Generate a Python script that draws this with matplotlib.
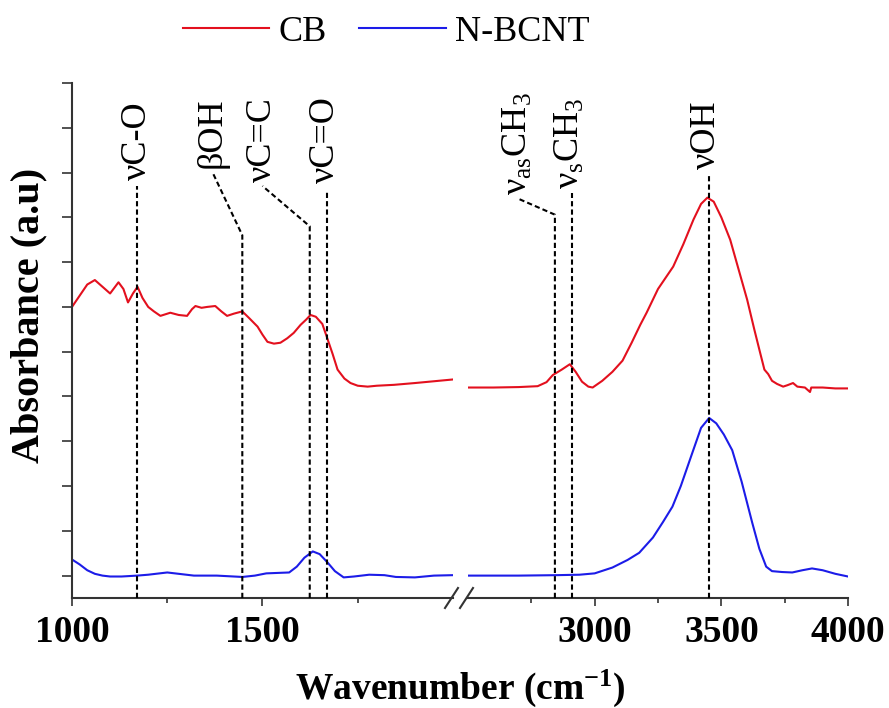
import matplotlib

matplotlib.use("Agg")
import matplotlib.pyplot as plt
from matplotlib.lines import Line2D

plt.rcParams["font.family"] = ["Liberation Serif", "DejaVu Serif"]
plt.rcParams["mathtext.fontset"] = "custom"
plt.rcParams["mathtext.rm"] = "Liberation Serif"
plt.rcParams["mathtext.it"] = "Liberation Serif:italic"
plt.rcParams["mathtext.bf"] = "Liberation Serif:bold"

# CB spectrum, low and high wavenumber parts
cb_low_x = [1000, 1020, 1040, 1060, 1080, 1100, 1122, 1135, 1147, 1160, 1172, 1185, 1200, 1215,
            1232, 1258, 1280, 1302, 1315, 1324, 1340, 1355, 1376, 1392, 1407, 1425, 1447, 1465,
            1487, 1500, 1513, 1530, 1547, 1565, 1582, 1600, 1615, 1626, 1640, 1657, 1670, 1684,
            1697, 1715, 1731, 1750, 1776, 1800, 1845, 1900, 1950, 2000]
cb_low_y = [6.0, 6.25, 6.5, 6.6, 6.45, 6.3, 6.55, 6.4, 6.1, 6.3, 6.45, 6.2, 6.0, 5.9,
            5.8, 5.87, 5.82, 5.8, 5.95, 6.02, 5.98, 6.0, 6.02, 5.9, 5.8, 5.85, 5.9, 5.75,
            5.56, 5.38, 5.22, 5.18, 5.2, 5.3, 5.42, 5.6, 5.72, 5.82, 5.78, 5.62, 5.3, 4.95,
            4.6, 4.4, 4.3, 4.24, 4.22, 4.24, 4.26, 4.3, 4.34, 4.38]
cb_high_x = [2500, 2600, 2700, 2775, 2810, 2835, 2870, 2902, 2925, 2950, 2975, 2992, 3030, 3070,
             3110, 3146, 3180, 3205, 3250, 3310, 3350, 3390, 3420, 3445, 3470, 3500, 3535, 3570,
             3602, 3630, 3653, 3670, 3685, 3700, 3720, 3744, 3760, 3783, 3800, 3830, 3850, 3855,
             3900, 3950, 4000]
cb_high_y = [4.2, 4.2, 4.21, 4.23, 4.32, 4.48, 4.6, 4.72, 4.55, 4.33, 4.22, 4.2, 4.35, 4.55,
             4.8, 5.2, 5.6, 5.87, 6.4, 6.9, 7.4, 7.95, 8.3, 8.44, 8.35, 8.0, 7.5, 6.8,
             6.16, 5.5, 4.98, 4.6, 4.5, 4.35, 4.28, 4.22, 4.25, 4.3, 4.22, 4.2, 4.1, 4.2,
             4.2, 4.18, 4.18]

# N-BCNT spectrum
nb_low_x = [1000, 1020, 1040, 1060, 1080, 1100, 1130, 1171, 1200, 1230, 1250, 1280, 1320, 1380,
            1447, 1480, 1510, 1540, 1570, 1590, 1610, 1632, 1650, 1670, 1690, 1713, 1740, 1780,
            1820, 1850, 1900, 1950, 2000]
nb_low_y = [0.36, 0.25, 0.12, 0.04, 0.0, -0.02, -0.02, 0.0, 0.02, 0.05, 0.07, 0.04, 0.0, 0.0,
            -0.03, 0.0, 0.05, 0.06, 0.07, 0.2, 0.4, 0.54, 0.48, 0.3, 0.1, -0.04, -0.02, 0.02,
            0.01, -0.03, -0.04, 0.0, 0.01]
nb_high_x = [2500, 2700, 2850, 2940, 3000, 3070, 3130, 3176, 3230, 3270, 3307, 3340, 3386, 3420,
             3452, 3480, 3510, 3543, 3580, 3622, 3650, 3677, 3700, 3740, 3780, 3820, 3858, 3900,
             3950, 4000]
nb_high_y = [0.0, 0.0, 0.01, 0.02, 0.05, 0.18, 0.35, 0.51, 0.85, 1.2, 1.54, 2.0, 2.75, 3.3,
             3.52, 3.4, 3.15, 2.8, 2.1, 1.18, 0.6, 0.2, 0.1, 0.08, 0.07, 0.12, 0.16, 0.12,
             0.04, -0.02]

# band assignments: label, band position (cm-1)
band_labels = ["νC-O", "βOH", "νC=C", "νC=O", r"ν$_{\mathrm{as}}$CH$_3$", r"ν$_{\mathrm{s}}$CH$_3$", "νOH"]
band_pos = [1171, 1447, 1624, 1668, 2843, 2910, 3451]

# where each dashed line bends and where its label sits (layout only)
band_layout = [
    # (line top, label x, label y)
    (8.7, 1171, 8.75),
    (7.6, 1368, 9.02),
    (7.8, 1500, 8.7),
    (8.6, 1664, 8.68),
    (8.06, 2697, 8.42),
    (8.55, 2905, 8.55),
    (9.0, 3440, 9.0),
]

RED = "#e3101e"
BLUE = "#1c1ce8"
AXC = "#333333"

fig = plt.figure(figsize=(8.89, 7.08), dpi=100)
ax1 = fig.add_axes([72 / 889, 1 - 598 / 708, 381 / 889, 515 / 708])
ax2 = fig.add_axes([468 / 889, 1 - 598 / 708, 380 / 889, 515 / 708])

ax1.plot(cb_low_x, cb_low_y, color=RED, lw=1.5, label="CB")
ax1.plot(nb_low_x, nb_low_y, color=BLUE, lw=1.5, label="N-BCNT")
ax2.plot(cb_high_x, cb_high_y, color=RED, lw=1.5)
ax2.plot(nb_high_x, nb_high_y, color=BLUE, lw=1.5)

ax1.set_xlim(1000, 2000)
ax2.set_xlim(2500, 4000)
for ax in (ax1, ax2):
    ax.set_ylim(-0.5, 11)
    for side in ("top", "right"):
        ax.spines[side].set_visible(False)
    for side in ("left", "bottom"):
        ax.spines[side].set_color(AXC)
        ax.spines[side].set_linewidth(1.5)
    ax.tick_params(axis="x", which="major", direction="out", length=6, width=1.2, color=AXC,
                   labelsize=27, pad=6)
    ax.tick_params(axis="x", which="minor", direction="out", length=3.5, width=1.2, color=AXC)
    for lab in ax.get_xticklabels():
        lab.set_fontweight("bold")

ax1.set_xticks([1000, 1500])
ax1.set_xticks([1250, 1750], minor=True)
ax2.set_xticks([3000, 3500, 4000])
ax2.set_xticks([2750, 3250, 3750], minor=True)
for ax in (ax1, ax2):
    for lab in ax.get_xticklabels():
        lab.set_fontweight("bold")

ax1.set_yticks(range(0, 12))
ax1.set_yticklabels([])
ax1.tick_params(axis="y", direction="out", length=7, width=1.2, color=AXC)
ax2.spines["left"].set_visible(False)
ax2.set_yticks([])

# dashed band markers
for label, pos, (top, tx, ty) in zip(band_labels, band_pos, band_layout):
    ax = ax1 if pos < 2000 else ax2
    xs = [pos, pos]
    ys = [-0.5, top]
    if abs(tx - pos) > 15:
        xs.append(tx)
        ys.append(ty)
    ax.plot(xs, ys, color="black", lw=1.5, ls=(0, (2.5, 1.5)), clip_on=False, zorder=3)
    ax.text(tx, ty + 0.08, label, rotation=90, ha="center", va="bottom", fontsize=26,
            rotation_mode="anchor" if False else "default")

# axis break marks
for x0 in (445, 460):
    fig.add_artist(Line2D([x0 / 889, (x0 + 13) / 889], [1 - 608 / 708, 1 - 588 / 708],
                          color=AXC, lw=1.5, transform=fig.transFigure))

fig.legend(loc="center", bbox_to_anchor=(386 / 889, 1 - 32 / 708), ncol=2, frameon=False,
           fontsize=26, handlelength=2.4, handletextpad=0.25, columnspacing=0.9)

fig.text(460 / 889, 1 - 688 / 708, r"Wavenumber (cm$^{\mathbf{-1}}$)", ha="center", va="center",
         fontsize=27, fontweight="bold")
fig.text(29 / 889, 1 - 315 / 708, "Absorbance (a.u)", rotation=90, ha="center", va="center",
         fontsize=29, fontweight="bold")

fig.savefig("out.png", dpi=100)
